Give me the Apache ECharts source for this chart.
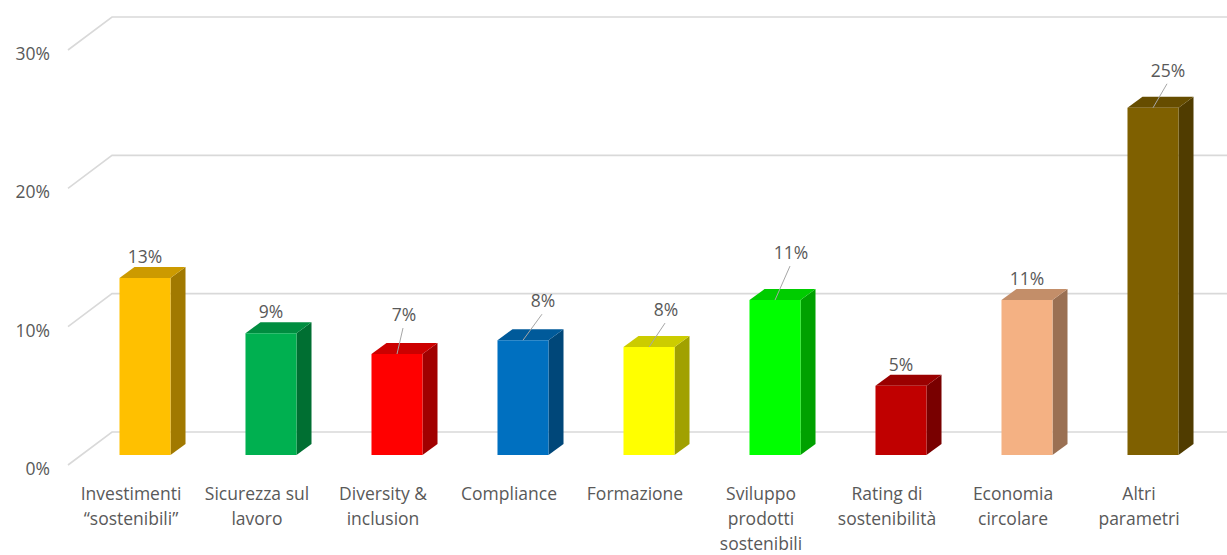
<!DOCTYPE html>
<html>
<head>
<meta charset="utf-8">
<script src="https://cdn.jsdelivr.net/npm/echarts@6/dist/echarts.min.js"></script>
<style>html,body{margin:0;padding:0;background:#fff;}#c{width:1227px;height:555px;}</style>
</head>
<body>
<div id="c"></div>
<script>
const categories = ['Investimenti\n\u201csostenibili\u201d', 'Sicurezza sul\nlavoro', 'Diversity &\ninclusion', 'Compliance', 'Formazione', 'Sviluppo\nprodotti\nsostenibili', 'Rating di\nsostenibilit\u00e0', 'Economia\ncircolare', 'Altri\nparametri'];
const values = [12.8, 8.8, 7.3, 8.3, 7.8, 11.2, 5.0, 11.2, 25.1];
const valueLabels = ['13%', '9%', '7%', '8%', '8%', '11%', '5%', '11%', '25%'];
const yTicks = [0, 10, 20, 30];
const yTickLabels = ['0%', '10%', '20%', '30%'];

// styling (not data)
const barColors = ['#FFC000', '#00B050', '#FF0000', '#0070C0', '#FFFF00', '#00FF00', '#C00000', '#F4B183', '#7F6000'];
const labelOffsets = [[0, -22], [0, -22], [7, -40], [20, -40], [17, -38], [16, -48], [0, -22], [0, -22], [15, -38]];
const hasLeader = [false, false, true, true, true, true, false, false, true];
const FONT = 'Open Sans';
const FS = 17.5;
const TEXT = '#595959';
const DX = 15, DY = -11; // bar depth
function shade(hex, f) {
  const n = parseInt(hex.slice(1), 16);
  const r = Math.round(((n >> 16) & 255) * f), g = Math.round(((n >> 8) & 255) * f), b = Math.round((n & 255) * f);
  return 'rgb(' + r + ',' + g + ',' + b + ')';
}

const chart = echarts.init(document.getElementById('c'), null, { renderer: 'svg' });
chart.setOption({
  animation: false,
  backgroundColor: '#fff',
  grid: { left: 82, right: 11, top: 40, bottom: 98 },
  xAxis: {
    type: 'category', data: categories,
    axisLine: { show: false }, axisTick: { show: false },
    axisLabel: { interval: 0, margin: 25, verticalAlign: 'top', lineHeight: 25, fontSize: FS, fontFamily: FONT, color: TEXT, padding: [0, 28, 0, 0] }
  },
  yAxis: {
    type: 'value', min: 0, max: 30, interval: 10,
    splitLine: { show: false }, axisLine: { show: false }, axisTick: { show: false },
    axisLabel: { margin: 32, verticalAlign: 'top', padding: [4, 0, 0, 0], fontSize: FS, fontFamily: FONT, color: TEXT,
      formatter: v => yTickLabels[yTicks.indexOf(v)] }
  },
  series: [
    {
      type: 'custom', z: 1, silent: true,
      data: yTicks.map(v => [0, v]),
      renderItem: function (params, api) {
        const p = api.coord([0, api.value(1)]);
        const cs = params.coordSys;
        const y = p[1];
        return {
          type: 'polyline',
          shape: { points: [[cs.x - 14, y + 10], [cs.x + 30, y - 23], [1227, y - 23]] },
          style: { stroke: '#D9D9D9', lineWidth: 1.6, fill: null }
        };
      }
    },
    {
      type: 'custom', z: 2, silent: true,
      data: values.map((v, i) => [i, v]),
      renderItem: function (params, api) {
        const i = params.dataIndex;
        const top = api.coord([i, api.value(1)]);
        const base = api.coord([i, 0]);
        const w = api.size([1, 0])[0] * 0.405;
        const xl = top[0] - w / 2, xr = top[0] + w / 2, yt = top[1], yb = base[1];
        const c = barColors[i];
        const children = [
          { type: 'polygon', shape: { points: [[xr, yb], [xr + DX, yb + DY], [xr + DX, yt + DY], [xr, yt]] }, style: { fill: shade(c, 0.63) } },
          { type: 'polygon', shape: { points: [[xl, yt], [xl + DX, yt + DY], [xr + DX, yt + DY], [xr, yt]] }, style: { fill: shade(c, 0.8) } },
          { type: 'rect', shape: { x: xl, y: yt, width: w, height: yb - yt }, style: { fill: c } }
        ];
        const lo = labelOffsets[i];
        const lx = top[0] + lo[0], ly = yt + lo[1];
        if (hasLeader[i]) {
          children.push({ type: 'line', shape: { x1: lx - 1, y1: ly + 14, x2: top[0], y2: yt }, style: { stroke: '#A6A6A6', lineWidth: 1 } });
        }
        children.push({ type: 'text', style: { text: valueLabels[i], x: lx, y: ly, align: 'center', verticalAlign: 'middle', fontSize: FS, fontFamily: FONT, fill: TEXT } });
        return { type: 'group', children: children };
      }
    }
  ]
});
</script>
</body>
</html>
